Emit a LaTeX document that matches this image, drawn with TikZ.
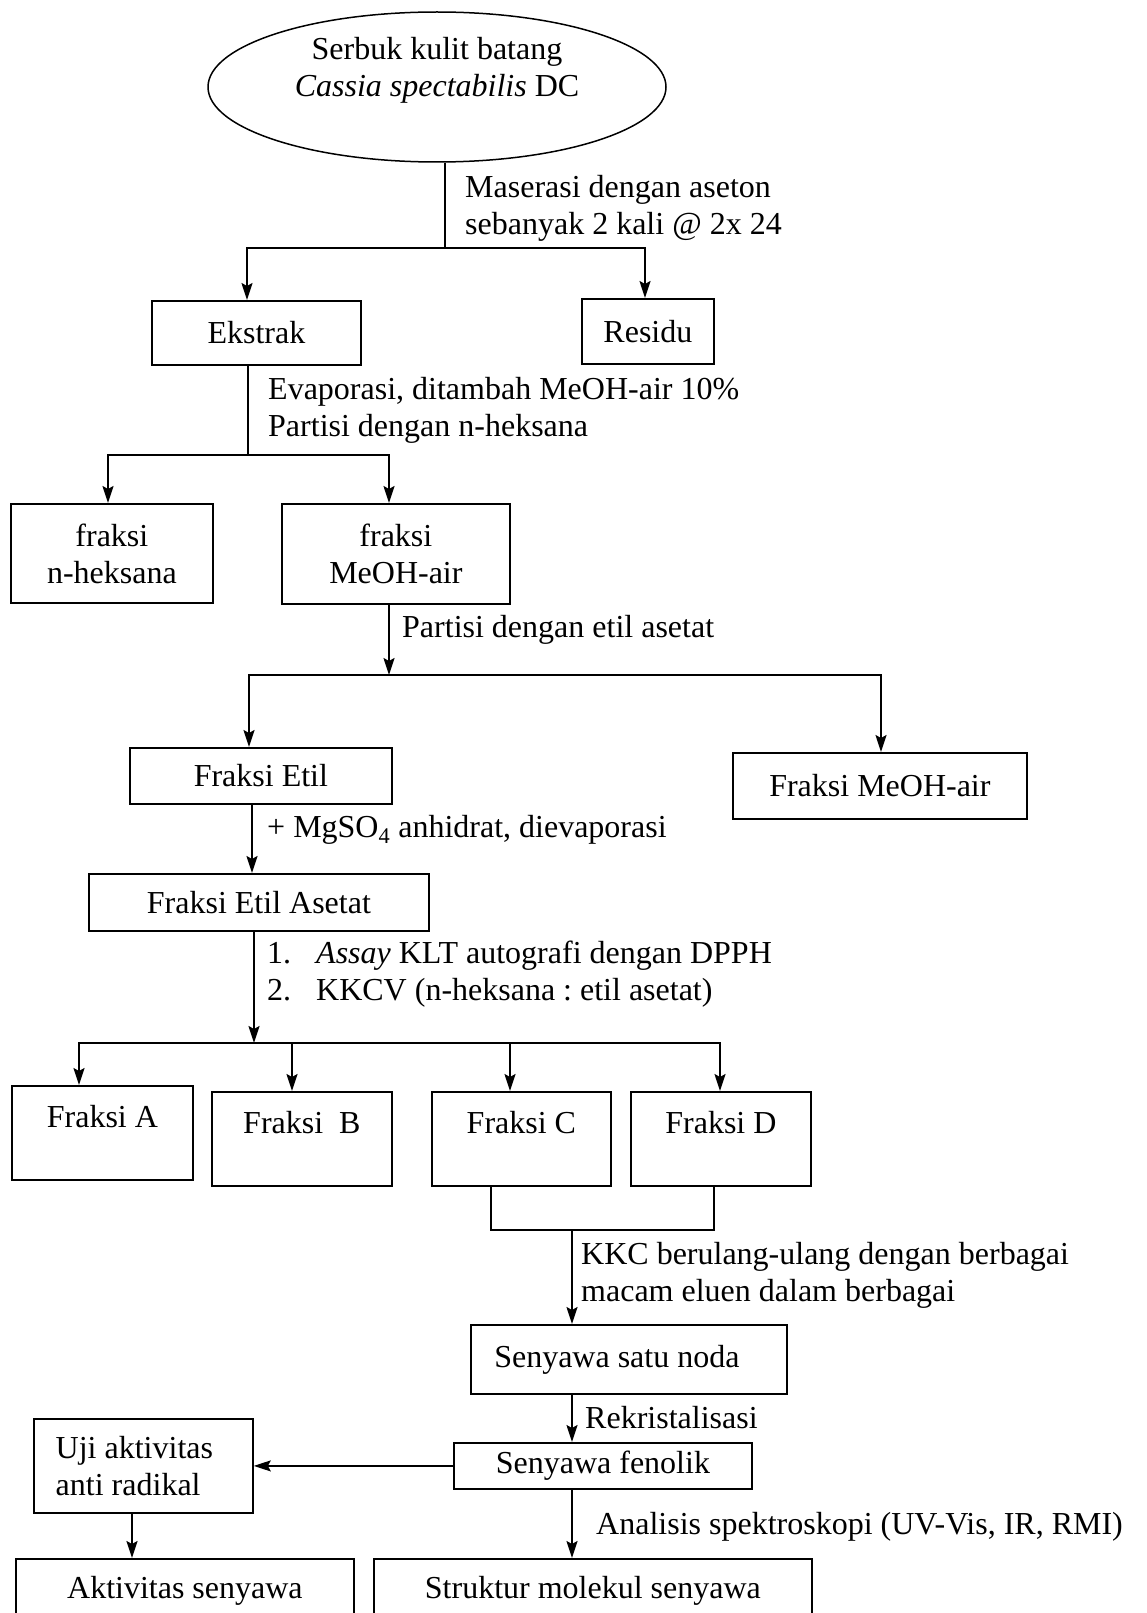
\documentclass[tikz,border=0pt]{standalone}
\usepackage{fontspec}
\setmainfont{Liberation Serif}
\frenchspacing
\usetikzlibrary{arrows.meta,shapes.geometric}
\begin{document}
\begin{tikzpicture}[x=1pt,y=-1pt,
  every node/.style={font=\fontsize{32}{37}\selectfont},
  box/.style={draw, line width=1.8pt, rectangle, anchor=north west, inner sep=0pt},
  fbox/.style={box, text height=22pt, text depth=33pt},
  lbl/.style={anchor=west, align=left, inner sep=0pt},
  ln/.style={line width=1.8pt},
  arr/.style={line width=1.8pt, -{Stealth[length=17pt,width=11pt,inset=3pt]}},
]
\useasboundingbox (0,0) rectangle (1146,1613);
\fill[white] (0,0) rectangle (1146,1613);

% nodes
\node[draw, ellipse, line width=1.5pt, minimum width=458pt, minimum height=150pt, inner sep=0pt] (src) at (437,87) {};
\node[align=center, inner sep=0pt] (srct) at (437,70) {Serbuk kulit batang\\\textit{Cassia spectabilis} DC};

\node[box, minimum width=209pt, minimum height=64pt] (ek) at (151,300) {Ekstrak};
\node[box, minimum width=132pt, minimum height=65pt] (rs) at (581,298) {Residu};

\node[box, minimum width=202pt, minimum height=99pt, align=center] (nh) at (10,503) {fraksi\\n-heksana};
\node[box, minimum width=228pt, minimum height=100pt, align=center] (mw) at (281,503) {fraksi\\MeOH-air};

\node[box, minimum width=262pt, minimum height=56pt] (fe) at (129,747) {Fraksi Etil};
\node[box, minimum width=294pt, minimum height=66pt] (fm) at (732,752) {Fraksi MeOH-air};

\node[box, minimum width=340pt, minimum height=57pt] (fea) at (88,873) {Fraksi Etil Asetat};

\node[fbox, minimum width=181pt, minimum height=94pt] (fA) at (11,1085) {Fraksi A};
\node[fbox, minimum width=180pt, minimum height=94pt] (fB) at (211,1091) {Fraksi\ \ B};
\node[fbox, minimum width=179pt, minimum height=94pt] (fC) at (431,1091) {Fraksi C};
\node[fbox, minimum width=180pt, minimum height=94pt] (fD) at (630,1091) {Fraksi D};

\node[box, minimum width=316pt, minimum height=69pt] (snd) at (470,1324) {\hspace*{-24pt}Senyawa satu noda};
\node[box, minimum width=298pt, minimum height=46pt] (sf) at (453,1442) {Senyawa fenolik};
\node[box, minimum width=219pt, minimum height=94pt, align=left] (uji) at (33,1418) {\hspace*{-18pt}Uji aktivitas\\\hspace*{-18pt}anti radikal};
\node[box, minimum width=338pt, minimum height=64pt] (ak) at (15,1558) {Aktivitas senyawa};
\node[box, minimum width=438pt, minimum height=64pt] (st) at (373,1558) {Struktur molekul senyawa};

% labels
\node[lbl] (l1) at (465,208) {Maserasi dengan aseton\\sebanyak 2 kali @ 2x 24};
\node[lbl] (l2) at (268,410) {Evaporasi, ditambah MeOH-air 10\%\\Partisi dengan n-heksana};
\node[lbl] (l3) at (402,630) {Partisi dengan etil asetat};
\node[lbl] (l4) at (267,830) {+ MgSO\textsubscript{4} anhidrat, dievaporasi};
\node[lbl] (l5) at (267,974) {\makebox[49pt][l]{1.}\textit{Assay} KLT autografi dengan DPPH\\\makebox[49pt][l]{2.}KKCV (n-heksana : etil asetat)};
\node[lbl] (l6) at (581,1275) {KKC berulang-ulang dengan berbagai\\macam eluen dalam berbagai};
\node[lbl] (l7) at (585,1418) {Rekristalisasi};
\node[lbl] (l8) at (596,1527) {Analisis spektroskopi (UV-Vis, IR, RMI)};

% connectors
\coordinate (j1) at (445,248);
\coordinate (xa) at (247,0);
\coordinate (xb) at (645,0);
\draw[ln] (src.south -| j1) -- (j1);
\draw[arr] (j1) -| (ek.north -| xa);
\draw[arr] (j1) -| (rs.north -| xb);

\coordinate (j2) at (248,455);
\coordinate (x2a) at (108,0);
\coordinate (x2b) at (389,0);
\draw[ln] (ek.south -| j2) -- (j2);
\draw[arr] (j2) -| (nh.north -| x2a);
\draw[arr] (j2) -| (mw.north -| x2b);

\coordinate (j3) at (389,675);
\coordinate (x3a) at (249,0);
\coordinate (x3b) at (881,0);
\draw[arr] (mw.south -| j3) -- (j3);
\draw[arr] (j3) -| (fe.north -| x3a);
\draw[arr] (j3) -| (fm.north -| x3b);

\coordinate (x4) at (252,0);
\draw[arr] (fe.south -| x4) -- (fea.north -| x4);

\coordinate (j4) at (254,1043);
\coordinate (x5a) at (79,0);
\coordinate (x5b) at (292,0);
\coordinate (x5c) at (510,0);
\coordinate (x5d) at (720,0);
\draw[arr] (fea.south -| j4) -- (j4);
\draw[arr] (j4) -| (fA.north -| x5a);
\draw[arr] (j4) -| (fB.north -| x5b);
\draw[arr] (j4) -| (fC.north -| x5c);
\draw[arr] (j4) -| (fD.north -| x5d);

\coordinate (cb) at (491,1230);
\coordinate (db) at (714,1230);
\coordinate (j5) at (572,1230);
\draw[ln] (fC.south -| cb) -- (cb) -- (db) -- (fD.south -| db);
\draw[arr] (j5) -- (snd.north -| j5);
\draw[arr] (snd.south -| j5) -- (sf.north -| j5);
\draw[arr] (sf.west) -- (uji.east);
\coordinate (x6) at (132,0);
\draw[arr] (uji.south -| x6) -- (ak.north -| x6);
\draw[arr] (sf.south -| j5) -- (st.north -| j5);
\end{tikzpicture}
\end{document}
